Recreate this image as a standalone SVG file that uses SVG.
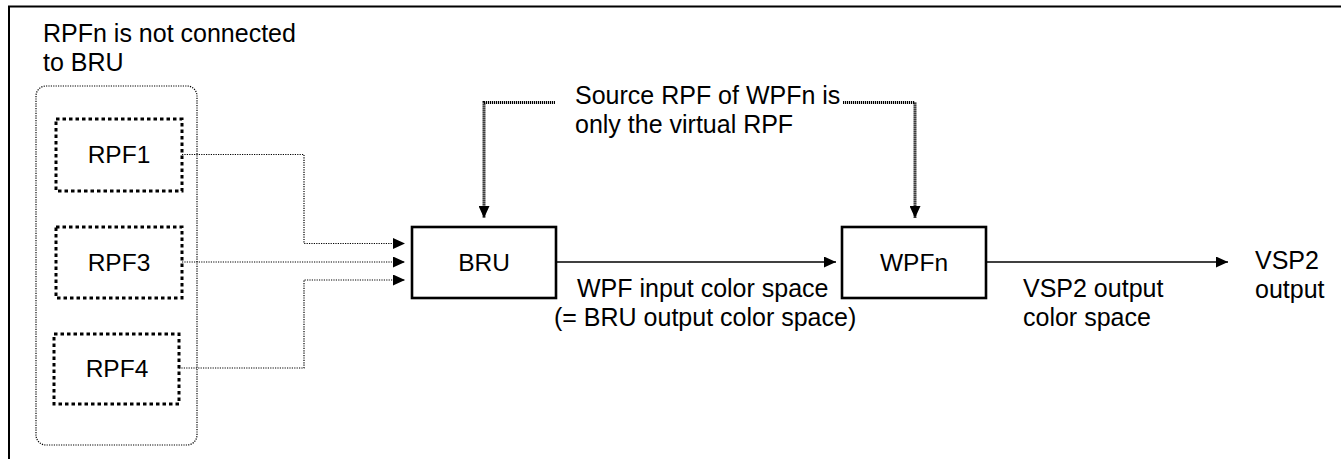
<svg xmlns="http://www.w3.org/2000/svg" width="1341" height="459" viewBox="0 0 1341 459">
<style>
text{font-family:"Liberation Sans",Arial,sans-serif;font-size:25px;fill:#000}
.mid{text-anchor:middle}
.box{font-size:24.5px}
.rpf{fill:#fff;stroke:#000;stroke-width:3;stroke-dasharray:3.5 3}
.blk{fill:#fff;stroke:#000;stroke-width:2.6}
.thin{fill:none;stroke:#000;stroke-width:1.2;stroke-dasharray:1.2 1.2}
.thick{fill:none;stroke:#000;stroke-width:3;stroke-dasharray:1.2 0.8}
.solid{fill:none;stroke:#000;stroke-width:1.4}
</style>
<defs>
<marker id="ah" viewBox="0 0 12 11" refX="12" refY="5.5" markerWidth="12" markerHeight="11" markerUnits="userSpaceOnUse" orient="auto">
<path d="M0,0 L12,5.5 L0,11 Z" fill="#000"/>
</marker>
</defs>
<rect width="1341" height="459" fill="#fff"/>
<g id="frame" fill="none" stroke="#000" stroke-width="2">
<line x1="8" y1="6.5" x2="1341" y2="6.5"/>
<line x1="9" y1="6" x2="9" y2="459"/>
</g>
<g id="group-rpfn">
<rect x="36" y="86" width="161" height="359" rx="10" ry="10" fill="none" stroke="#000" stroke-width="1.2" stroke-dasharray="1.2 1.2"/>
<text x="43" y="42">RPFn is not connected</text>
<text x="43" y="71">to BRU</text>
</g>
<g id="rpf1">
<rect class="rpf" x="56" y="119" width="126" height="72"/>
<text class="mid box" x="119" y="163">RPF1</text>
</g>
<g id="rpf3">
<rect class="rpf" x="56" y="227" width="126" height="71"/>
<text class="mid box" x="119" y="271">RPF3</text>
</g>
<g id="rpf4">
<rect class="rpf" x="54" y="334" width="125" height="70"/>
<text class="mid box" x="117" y="377">RPF4</text>
</g>
<g id="bru">
<rect class="blk" x="412" y="227" width="144" height="71"/>
<text class="mid box" x="484" y="271">BRU</text>
</g>
<g id="wpfn">
<rect class="blk" x="842" y="227" width="144" height="71"/>
<text class="mid box" x="914" y="271">WPFn</text>
</g>
<g id="note">
<text x="575" y="104">Source RPF of WPFn is</text>
<text x="575" y="133">only the virtual RPF</text>
</g>
<g id="labels">
<text x="577" y="297">WPF input color space</text>
<text x="554" y="326">(= BRU output color space)</text>
<text x="1023" y="297">VSP2 output</text>
<text x="1023" y="326">color space</text>
<text x="1255" y="269">VSP2</text>
<text x="1255" y="298">output</text>
</g>
<g id="connectors">
<polyline class="thin" points="182,154.5 304,154.5 304,243.5 405,243.5" marker-end="url(#ah)"/>
<polyline class="thin" points="182,262 405,262" marker-end="url(#ah)"/>
<polyline class="thin" points="179,368 304,368 304,280 405,280" marker-end="url(#ah)"/>
<polyline class="thick" points="555,102.5 484,102.5 484,218" marker-end="url(#ah)"/>
<polyline class="thick" points="843,102.5 915,102.5 915,218" marker-end="url(#ah)"/>
<line class="solid" x1="556" y1="262" x2="836" y2="262" marker-end="url(#ah)"/>
<line class="solid" x1="986" y1="262" x2="1228" y2="262" marker-end="url(#ah)"/>
</g>
</svg>
